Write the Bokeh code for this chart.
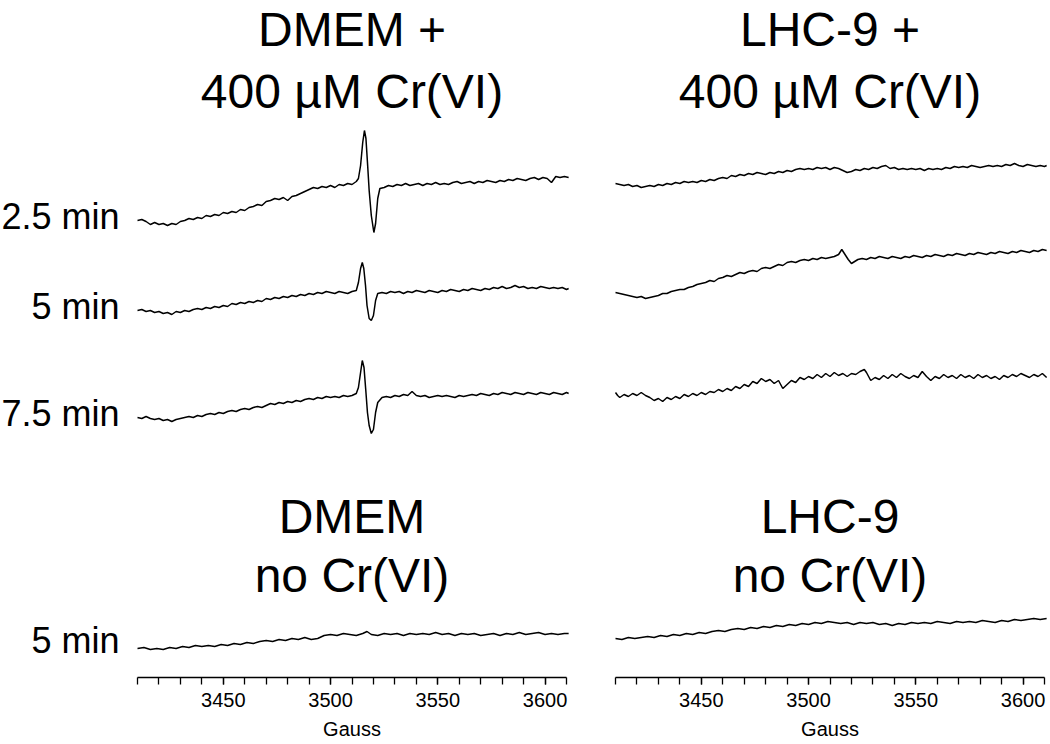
from bokeh.plotting import figure
from bokeh.models import Range1d, FixedTicker, Label
from bokeh.layouts import row
from bokeh.embed import file_html
from bokeh.resources import INLINE

# ---------------- data (field in Gauss, signal in arbitrary units) ----------------
TICKS_MAJOR = [3450, 3500, 3550, 3600]
TICKS_MINOR = list(range(3410, 3611, 10))
X_LABEL = "Gauss"

TITLES_LEFT = ["DMEM +", "400 \u00b5M Cr(VI)", "DMEM", "no Cr(VI)"]
TITLES_RIGHT = ["LHC-9 +", "400 \u00b5M Cr(VI)", "LHC-9", "no Cr(VI)"]
TIME_LABELS = ["2.5 min", "5 min", "7.5 min", "5 min"]

# DMEM + Cr(VI), 2.5 min
D25_G = [3410,3412,3414,3416,3418,3420,3422,3424,3426,3428,3430,3432,3434,3436,3438,3440,3442,3444,3446,3448,
         3450,3452,3454,3456,3458,3460,3462,3464,3466,3468,3470,3472,3474,3476,3478,3480,3482,3484,3486,3488,
         3490,3492,3494,3496,3498,3500,3502,3504,3506,3508,3510,3512,3513,3514,3515,3515.8,3516.5,3517.3,3518,3519,
         3520.2,3521,3522,3523,3525,3527,3529,3531,3533,3535,3537,3539,3541,3543,3545,3547,3549,3551,3553,3555,
         3557,3559,3561,3563,3565,3567,3569,3571,3573,3575,3577,3579,3581,3583,3585,3587,3589,3591,3593,3595,
         3597,3599,3601,3603,3605,3607,3609,3611]
D25_I = [0,1,-1,-4,-2,-4,-3,-5,-3,-4,-1,0,2,1,3,2,5,4,6,5,
         8,7,9,8,11,10,13,14,16,15,19,20,22,21,23,20,24,25,27,29,
         31,33,32,34,33,35,33,36,35,37,36,39,42,55,78,90,82,55,30,5,
         -12,-3,22,32,33,35,34,36,35,37,35,36,37,35,37,36,38,36,37,36,
         38,39,37,38,39,37,39,38,40,39,38,40,39,41,40,42,41,40,42,43,
         41,43,42,38,44,43,44,43]

# DMEM + Cr(VI), 5 min
D5_G = [3410,3412,3414,3416,3418,3420,3422,3424,3426,3428,3430,3432,3434,3436,3438,3440,3442,3444,3446,3448,
        3450,3452,3454,3456,3458,3460,3462,3464,3466,3468,3470,3472,3474,3476,3478,3480,3482,3484,3486,3488,
        3490,3492,3494,3496,3498,3500,3502,3504,3506,3508,3510,3512,3513,3514,3514.8,3515.5,3516.3,3517,3518,3519,
        3520,3521,3522,3524,3526,3528,3530,3532,3534,3536,3538,3540,3542,3544,3546,3548,3550,3552,3554,3556,
        3558,3560,3562,3564,3566,3568,3570,3572,3574,3576,3578,3580,3582,3584,3586,3588,3590,3592,3594,3596,
        3598,3600,3602,3604,3606,3608,3610,3611]
D5_I = [0,1,-1,0,-2,-1,-3,-2,-4,-1,-2,0,-1,1,2,1,3,2,4,3,
        5,4,7,6,8,7,9,8,10,9,12,11,13,12,14,13,15,14,16,15,
        17,16,18,17,19,18,17,19,18,17,19,20,28,42,48,42,25,5,-8,-10,
        -5,10,17,18,17,19,18,19,17,19,18,20,19,18,20,19,18,20,19,21,
        20,19,21,20,22,21,20,22,21,23,22,24,22,23,25,23,24,22,23,22,
        24,23,22,23,22,23,21,22]

# DMEM + Cr(VI), 7.5 min
D75_G = [3410,3412,3414,3416,3418,3420,3422,3424,3426,3428,3430,3432,3434,3436,3438,3440,3442,3444,3446,3448,
         3450,3452,3454,3456,3458,3460,3462,3464,3466,3468,3470,3472,3474,3476,3478,3480,3482,3484,3486,3488,
         3490,3492,3494,3496,3498,3500,3502,3504,3506,3508,3510,3512,3513,3514,3514.8,3515.6,3516.4,3517.2,3518,3519,
         3520,3521,3522,3524,3526,3528,3530,3532,3534,3536,3538,3540,3542,3544,3546,3548,3550,3552,3554,3556,
         3558,3560,3562,3564,3566,3568,3570,3572,3574,3576,3578,3580,3582,3584,3586,3588,3590,3592,3594,3596,
         3598,3600,3602,3604,3606,3608,3610,3611]
D75_I = [0,-1,1,-1,-2,-1,-3,-2,-4,-2,-1,0,1,0,2,1,3,4,3,5,
         4,6,7,6,8,9,8,10,11,10,12,14,13,15,14,16,15,17,16,18,
         19,18,20,19,21,20,21,20,22,21,22,24,30,45,57,50,28,5,-8,-16,
         -12,5,15,20,21,20,22,21,23,22,26,22,21,22,20,21,22,21,22,21,
         20,22,21,22,23,22,24,23,22,24,23,25,24,23,25,24,23,25,24,23,
         25,24,23,25,24,23,25,24]

# DMEM, no Cr(VI), 5 min
D0_G = [3410,3413,3416,3419,3422,3425,3428,3431,3434,3437,3440,3443,3446,3449,3452,3455,3458,3461,3464,3467,
        3470,3473,3476,3479,3482,3485,3488,3491,3494,3497,3500,3503,3506,3509,3512,3515,3517,3519,3522,3525,
        3528,3531,3534,3537,3540,3543,3546,3549,3552,3555,3558,3561,3564,3567,3570,3573,3576,3579,3582,3585,
        3588,3591,3594,3597,3600,3603,3606,3609,3611]
D0_I = [0,1,-1,0,-1,1,0,2,1,3,2,3,2,4,3,5,4,6,5,7,
        8,7,9,8,10,9,11,9,10,13,14,13,15,14,13,15,17,14,13,15,
        14,15,13,15,14,15,14,16,14,15,13,15,14,15,13,14,15,13,15,14,
        16,14,15,16,14,15,14,15,15]

# LHC-9 + Cr(VI), 2.5 min
H25_G = [3410,3412,3414,3416,3418,3420,3422,3424,3426,3428,3430,3432,3434,3436,3438,3440,3442,3444,3446,3448,
         3450,3452,3454,3456,3458,3460,3462,3464,3466,3468,3470,3472,3474,3476,3478,3480,3482,3484,3486,3488,
         3490,3492,3494,3496,3498,3500,3502,3504,3506,3508,3510,3512,3514,3516,3518,3520,3522,3524,3526,3528,
         3530,3532,3534,3536,3538,3540,3542,3544,3546,3548,3550,3552,3554,3556,3558,3560,3562,3564,3566,3568,
         3570,3572,3574,3576,3578,3580,3582,3584,3586,3588,3590,3592,3594,3596,3598,3600,3602,3604,3606,3608,
         3610,3611]
H25_I = [0,-1,-2,-1,-3,-2,-4,-3,-2,-3,-1,-2,0,-1,1,0,2,1,2,1,
         3,2,4,3,5,6,5,8,7,9,8,10,9,11,10,9,11,10,12,11,
         13,12,14,15,14,15,14,16,15,16,14,16,15,13,11,12,14,13,15,14,
         16,15,17,18,15,16,14,15,14,15,14,15,13,15,14,15,14,16,15,17,
         16,17,16,18,17,16,17,18,17,18,17,19,18,20,18,17,19,18,17,18,
         17,18]

# LHC-9 + Cr(VI), 5 min
H5_G = [3410,3412,3414,3416,3418,3420,3422,3424,3426,3428,3430,3432,3434,3436,3438,3440,3442,3444,3446,3448,
        3450,3452,3454,3456,3458,3460,3462,3464,3466,3468,3470,3472,3474,3476,3478,3480,3482,3484,3486,3488,
        3490,3492,3494,3496,3498,3500,3502,3504,3506,3508,3510,3512,3514,3515.5,3517,3518.5,3520,3521.5,3523,3525,
        3527,3529,3531,3533,3535,3537,3539,3541,3543,3545,3547,3549,3551,3553,3555,3557,3559,3561,3563,3565,
        3567,3569,3571,3573,3575,3577,3579,3581,3583,3585,3587,3589,3591,3593,3595,3597,3599,3601,3603,3605,
        3607,3609,3611]
H5_I = [0,-1,-2,-3,-4,-5,-4,-6,-5,-4,-3,-1,-1,1,2,3,3,5,6,8,
        9,10,12,11,14,15,17,16,18,20,19,21,22,21,24,25,24,26,28,27,
        30,31,30,32,33,32,34,33,35,34,35,36,38,43,38,33,29,31,33,34,
        33,35,34,36,35,34,36,35,34,36,35,37,36,35,37,36,38,37,36,38,
        37,39,38,37,39,38,40,39,38,40,39,41,40,39,41,40,42,41,40,42,
        41,43,42]

# LHC-9 + Cr(VI), 7.5 min
H75_G = [3410,3411,3412,3414,3416,3418,3420,3422,3424,3426,3428,3430,3432,3434,3436,3438,3440,3442,3444,3446,
         3448,3450,3452,3454,3456,3458,3460,3462,3464,3466,3468,3470,3472,3474,3476,3478,3480,3482,3484,3486,
         3488,3490,3492,3494,3496,3498,3500,3502,3504,3506,3508,3510,3512,3514,3516,3518,3520,3522,3524,3526,
         3527,3529,3531,3533,3535,3537,3539,3541,3543,3545,3547,3549,3551,3553,3555,3557,3559,3561,3563,3565,
         3567,3569,3571,3573,3575,3577,3579,3581,3583,3585,3587,3589,3591,3593,3595,3597,3599,3601,3603,3605,
         3607,3609,3611]
H75_I = [0,-3,-5,-2,-4,-1,-3,0,-3,-5,-8,-6,-9,-5,-7,-4,-6,-2,-4,-1,
         -3,0,-2,1,0,3,1,4,2,6,4,8,6,11,9,14,11,13,9,12,
         4,8,12,10,15,13,16,14,18,15,19,16,20,17,19,16,19,18,21,23,
         20,12,15,13,17,14,18,15,19,16,14,17,15,21,16,12,16,14,18,15,
         17,14,18,15,17,14,18,15,17,14,16,13,17,15,18,16,19,17,15,18,
         16,19,15]

# LHC-9, no Cr(VI), 5 min
H0_G = [3410,3413,3416,3419,3422,3425,3428,3431,3434,3437,3440,3443,3446,3449,3452,3455,3458,3461,3464,3467,
        3470,3473,3476,3479,3482,3485,3488,3491,3494,3497,3500,3503,3506,3509,3512,3515,3518,3521,3524,3527,
        3530,3533,3536,3539,3542,3545,3548,3551,3554,3557,3560,3563,3566,3569,3572,3575,3578,3581,3584,3587,
        3590,3593,3596,3599,3602,3605,3608,3611]
H0_I = [0,-1,1,0,1,2,1,3,2,4,3,5,4,6,5,7,8,7,9,10,
        9,11,10,12,11,13,12,14,13,15,14,16,15,17,16,15,16,14,16,15,
        16,14,15,13,15,14,16,15,16,15,17,16,15,17,16,17,16,18,17,16,
        18,17,19,18,19,20,19,20]

# ---------------- layout (not data) ----------------
FONT = "Liberation Sans"
H = 744                       # figure height in px; y data units == px
PX_PER_G = 2.145              # horizontal scale, px per Gauss
G0, G1 = 3410, 3610           # extent of the field axis
AXIS_Y = 67                   # height of the field axis above the bottom edge
OFFSETS_LEFT = [524, 434, 327, 96]     # vertical stacking offsets of the traces
OFFSETS_RIGHT = [561, 452, 352, 106]
TITLE_Y = [715, 653, 228, 169]         # centres of the title lines
LABEL_Y = [528, 438, 331, 104]         # centres of the time labels
LABEL_X = 3401.6


def make_panel(traces, offsets, titles, width, axis_left, time_labels):
    xr = Range1d(G0 - axis_left / PX_PER_G, G0 + (width - axis_left) / PX_PER_G)
    p = figure(width=width, height=H, output_backend="svg", toolbar_location=None,
               x_range=xr, y_range=Range1d(0, H), min_border=0,
               min_border_left=0, min_border_right=0, min_border_top=0, min_border_bottom=0)
    p.outline_line_color = None
    p.grid.visible = False
    p.yaxis.visible = False
    p.background_fill_color = "white"
    p.border_fill_color = "white"

    for (g, v), off in zip(traces, offsets):
        p.line(g, [off + a for a in v], line_color="black", line_width=1.5)

    ax = p.xaxis[0]
    ax.fixed_location = AXIS_Y
    ax.bounds = (G0, G1)
    ax.ticker = FixedTicker(ticks=TICKS_MAJOR, minor_ticks=TICKS_MINOR)
    ax.axis_line_width = 1.5
    ax.axis_line_color = "black"
    ax.major_tick_in = 0
    ax.major_tick_out = 7
    ax.minor_tick_in = 0
    ax.minor_tick_out = 7
    ax.major_tick_line_width = 1.3
    ax.minor_tick_line_width = 1.3
    ax.major_tick_line_color = "black"
    ax.minor_tick_line_color = "black"
    ax.major_label_text_font = FONT
    ax.major_label_text_font_size = "20px"
    ax.major_label_text_color = "black"
    ax.major_label_standoff = 8
    ax.axis_label = X_LABEL
    ax.axis_label_text_font = FONT
    ax.axis_label_text_font_size = "20px"
    ax.axis_label_text_font_style = "normal"
    ax.axis_label_text_color = "black"
    ax.axis_label_standoff = 8

    for t, y in zip(titles, TITLE_Y):
        p.add_layout(Label(x=3510, y=y, text=t, text_align="center", text_baseline="middle",
                           text_font=FONT, text_font_size="48px", text_color="black"))
    if time_labels:
        for t, y in zip(time_labels, LABEL_Y):
            p.add_layout(Label(x=LABEL_X, y=y, text=t, text_align="right", text_baseline="middle",
                               text_font=FONT, text_font_size="36px", text_color="black"))
    return p


left = make_panel([(D25_G, D25_I), (D5_G, D5_I), (D75_G, D75_I), (D0_G, D0_I)], OFFSETS_LEFT,
                  TITLES_LEFT, 590, 137, TIME_LABELS)
right = make_panel([(H25_G, H25_I), (H5_G, H5_I), (H75_G, H75_I), (H0_G, H0_I)], OFFSETS_RIGHT,
                   TITLES_RIGHT, 460, 25, None)

layout = row(left, right)
open("out.html", "w").write(file_html(layout, INLINE))
